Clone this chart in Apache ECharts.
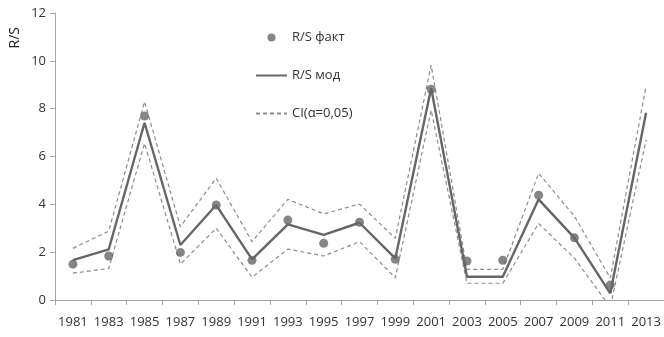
<!DOCTYPE html>
<html>
<head>
<meta charset="utf-8">
<script src="https://cdn.jsdelivr.net/npm/echarts@6/dist/echarts.min.js"></script>
<style>
  html, body { margin: 0; padding: 0; background: #fff; }
  #chart { width: 664px; height: 337px; }
</style>
</head>
<body>
<div id="chart"></div>
<script>
// Years on the category axis
const years = ['1981','1983','1985','1987','1989','1991','1993','1995','1997','1999','2001','2003','2005','2007','2009','2011','2013'];
// Observed R/S values (no observation for 2013)
const rsFact = [1.5, 1.84, 7.69, 1.99, 3.97, 1.66, 3.34, 2.37, 3.25, 1.70, 8.81, 1.63, 1.66, 4.38, 2.6, 0.63, null];
// Model R/S values
const rsModel = [1.67, 2.12, 7.41, 2.3, 3.97, 1.7, 3.16, 2.72, 3.23, 1.74, 8.85, 0.97, 0.97, 4.21, 2.6, 0.28, 7.83];
// Confidence interval bounds (alpha = 0.05)
const ciUpper = [2.16, 2.88, 8.29, 3.07, 5.09, 2.44, 4.21, 3.6, 4.01, 2.58, 9.82, 1.28, 1.28, 5.3, 3.5, 0.92, 8.95];
const ciLower = [1.12, 1.32, 6.55, 1.5, 3.0, 0.95, 2.13, 1.84, 2.44, 0.93, 7.94, 0.7, 0.7, 3.2, 1.75, -0.3, 6.69];
// Value axis ticks
const yTicks = [0, 2, 4, 6, 8, 10, 12];

const FONT = 'Open Sans';
const DARK = '#666666';
const DASH = '#8c8c8c';

const chart = echarts.init(document.getElementById('chart'), null, { renderer: 'canvas' });

const ciStyle = {
  type: 'line',
  name: 'CI(α=0,05)',
  symbol: 'none',
  silent: true,
  clip: true,
  lineStyle: { color: DASH, width: 1.2, type: [4, 3] },
  itemStyle: { color: DASH },
  z: 2
};

chart.setOption({
  animation: false,
  backgroundColor: '#ffffff',
  textStyle: { fontFamily: FONT },
  grid: { left: 55, right: -3, top: 13, bottom: 37, containLabel: false },
  legend: {
    orient: 'vertical',
    left: 250,
    top: 26,
    itemGap: 25,
    itemWidth: 31,
    itemHeight: 8,
    textStyle: { fontFamily: FONT, fontSize: 13, color: '#333' },
    data: [
      { name: 'R/S факт', icon: 'circle', itemStyle: { color: DARK } },
      // line-only legend keys: hide the marker drawn on the key line
      { name: 'R/S мод', itemStyle: { opacity: 0 } },
      { name: 'CI(α=0,05)', itemStyle: { opacity: 0 } }
    ]
  },
  graphic: [{
    type: 'text',
    left: 8,
    top: 27,
    rotation: Math.PI / 2,
    style: { text: 'R/S', font: '14px "Open Sans"', fill: '#222' }
  }],
  xAxis: {
    type: 'category',
    data: years,
    boundaryGap: true,
    axisLine: { lineStyle: { color: '#a6a6a6', width: 1 } },
    axisTick: { show: true, length: 5, lineStyle: { color: '#a6a6a6' } },
    axisLabel: { margin: 16, fontSize: 13, color: '#333', fontFamily: FONT, interval: 0 },
    splitLine: { show: false }
  },
  yAxis: {
    type: 'value',
    min: yTicks[0],
    max: yTicks[yTicks.length - 1],
    interval: 2,
    axisLine: { show: true, lineStyle: { color: '#a6a6a6', width: 1 } },
    axisTick: { show: true, length: 5, lineStyle: { color: '#a6a6a6' } },
    axisLabel: { margin: 9, fontSize: 13, color: '#333', fontFamily: FONT },
    splitLine: { show: false }
  },
  series: [
    Object.assign({}, ciStyle, { data: ciUpper }),
    Object.assign({}, ciStyle, { data: ciLower }),
    {
      type: 'line',
      name: 'R/S мод',
      data: rsModel,
      symbol: 'none',
      lineStyle: { color: DARK, width: 2.4 },
      itemStyle: { color: DARK },
      z: 3
    },
    {
      type: 'scatter',
      name: 'R/S факт',
      data: rsFact,
      symbol: 'circle',
      symbolSize: 9,
      itemStyle: { color: DARK },
      z: 4
    }
  ]
});
</script>
</body>
</html>
